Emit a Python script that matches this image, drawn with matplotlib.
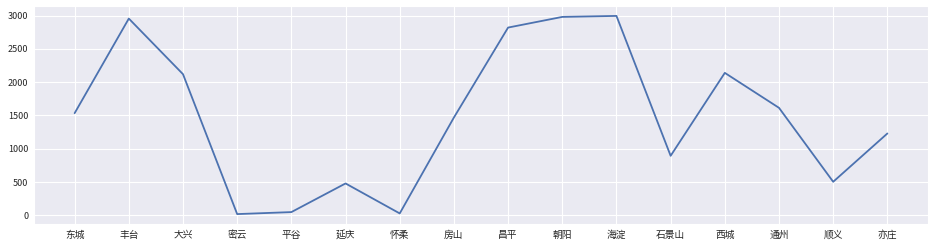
import matplotlib
matplotlib.use("Agg")
import matplotlib.pyplot as plt
import seaborn as sns

# 各区数值
districts = ["东城", "丰台", "大兴", "密云", "平谷", "延庆", "怀柔", "房山",
             "昌平", "朝阳", "海淀", "石景山", "西城", "通州", "顺义", "亦庄"]
values = [1535, 2955, 2120, 20, 50, 480, 30, 1470,
          2820, 2980, 2995, 895, 2140, 1615, 505, 1230]

sns.set_style("darkgrid")
plt.rcParams['font.family'] = ['Noto Sans CJK SC', 'DejaVu Sans']
plt.rcParams['axes.unicode_minus'] = False

fig = plt.figure(figsize=(9.34, 2.49), dpi=100)
ax = fig.add_axes([34 / 934, 25 / 249, 894 / 934, 218 / 249])
ax.plot(districts, values, color="#4c72b0", linewidth=1.3)
ax.set_yticks([0, 500, 1000, 1500, 2000, 2500, 3000])
ax.tick_params(axis="x", labelsize=7, colors="#262626", length=0, pad=4)
ax.tick_params(axis="y", labelsize=6.5, colors="#262626", length=0, pad=4)

fig.savefig("out.png", dpi=100)
